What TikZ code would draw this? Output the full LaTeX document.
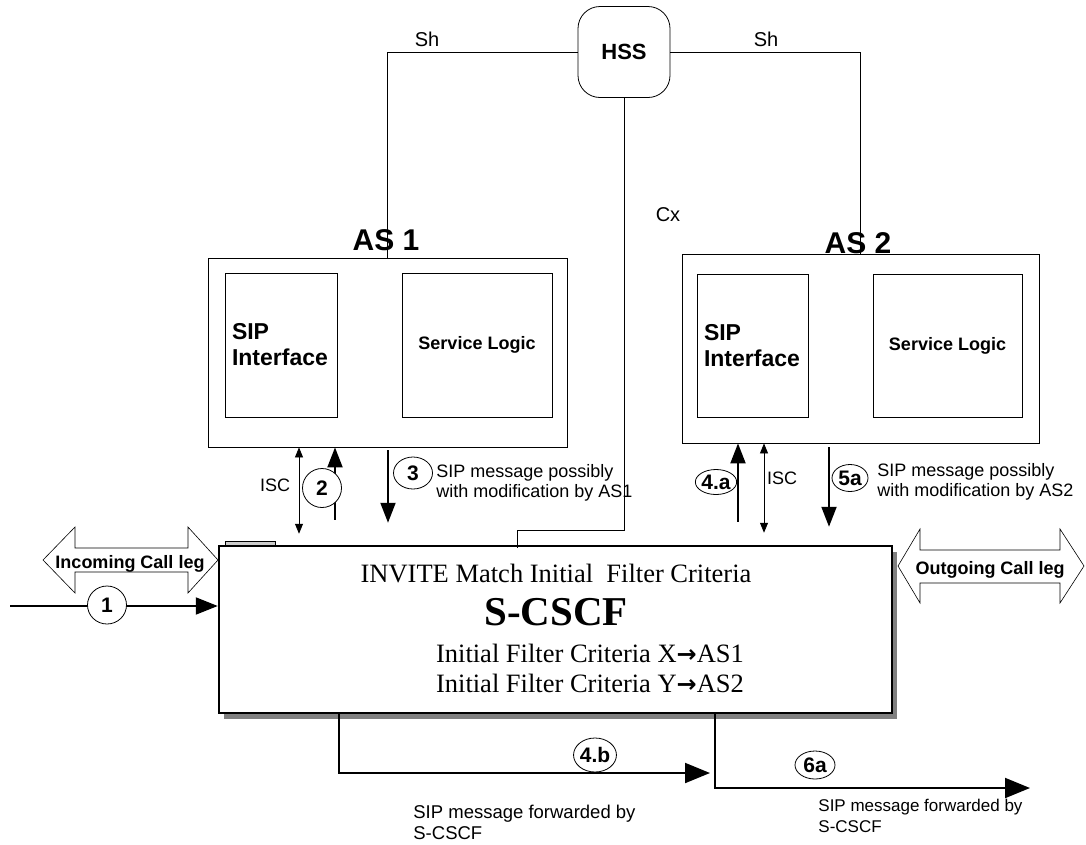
\documentclass[tikz,border=0pt]{standalone}
\usepackage{fontspec}
\setmainfont{Liberation Sans}
\newfontfamily\serifface{Liberation Serif}
\newfontfamily\arrowface{DejaVu Sans}
\usetikzlibrary{positioning}
\usetikzlibrary{arrows.meta}
\usetikzlibrary{shapes.geometric, shadows}

\newcommand{\pxsize}[2]{\fontsize{#1}{#2}\selectfont}
\newcommand{\ifcarrow}{{\arrowface\bfseries\pxsize{24}{28}→}}

\begin{document}
\begin{tikzpicture}[
        x = 1pt, y = -1pt, % pixel grid, y runs downwards
        > = {Triangle[length=20pt, width=15pt]}, % arrow head style
        line width = 0.8pt, % line style
        flow/.style = {->, line width=2pt},
        isc/.style = {{Triangle[length=10pt, width=8pt]}-{Triangle[length=10pt, width=8pt]}},
        box/.style = {draw, rectangle, inner sep=0pt},
        tag/.style = {draw, fill=white, ellipse, inner sep=0pt, font=\bfseries\pxsize{21}{24}},
        txt/.style = {font=\pxsize{18}{20}, inner sep=0pt, align=left, anchor=west},
        leg/.style = {draw, fill=white, line width=0.6pt}
        ]
  \useasboundingbox (0,0) rectangle (1086,844);

  % HSS and the two application servers
  \node[box, rounded corners=22pt, minimum width=92pt, minimum height=91pt,
        font=\bfseries\pxsize{22}{24}] (hss) at (624,52) {HSS};

  \node[box, minimum width=359pt, minimum height=189pt] (as1) at (387.5,352.5) {};
  \node[box, minimum width=112pt, minimum height=144pt, text width=98pt, inner xsep=7pt,
        align=left, font=\bfseries\pxsize{23}{26}] (sip1) at (281,345) {SIP\\Interface};
  \node[box, minimum width=150pt, minimum height=144pt,
        font=\bfseries\pxsize{18}{20}] (logic1) at (477,345) {Service Logic};
  \node[font=\bfseries\pxsize{30}{32}] (name1) at (386,240) {AS 1};

  \node[box, minimum width=357pt, minimum height=189pt] (as2) at (860.5,348.5) {};
  \node[box, minimum width=111pt, minimum height=143pt, text width=97pt, inner xsep=7pt,
        align=left, font=\bfseries\pxsize{23}{26}] (sip2) at (752.5,345.5) {SIP\\Interface};
  \node[box, minimum width=149pt, minimum height=143pt,
        font=\bfseries\pxsize{18}{20}] (logic2) at (947.5,345.5) {Service Logic};
  \node[font=\bfseries\pxsize{30}{32}] (name2) at (858,243) {AS 2};

  % S-CSCF
  \draw[fill=gray!40, line width=0.6pt] (225,541) rectangle (275,546);
  \node[box, line width=2.5pt, fill=white, minimum width=673pt, minimum height=167pt,
        drop shadow={shadow xshift=5pt, shadow yshift=-6pt, fill=gray, opacity=1}]
        (scscf) at (555.5,629.5) {};
  \node[font=\serifface\pxsize{26.5}{28}] (invite) at (556,573) {INVITE Match Initial\ \ Filter Criteria};
  \node[font=\serifface\bfseries\pxsize{41}{44}] (title) at (556,612) {S-CSCF};
  \node[font=\serifface\pxsize{26.5}{28}] (ifcx) at (590,653) {Initial Filter Criteria X\ifcarrow AS1};
  \node[font=\serifface\pxsize{26.5}{28}] (ifcy) at (590,683) {Initial Filter Criteria Y\ifcarrow AS2};

  % Sh and Cx
  \draw (hss.west) -| (as1.north);
  \draw (hss.east) -| (as2.north);
  \node[font=\pxsize{20}{22}] (sh1) at (427,39) {Sh};
  \node[font=\pxsize{20}{22}] (sh2) at (766,39) {Sh};
  \coordinate (cxend) at (517,548);
  \draw (hss.south) |- (517,530) -- (cxend);
  \node[font=\pxsize{20}{22}] (cx) at (668,215) {Cx};

  % call legs
  \draw[leg] (43,560) -- (75,527) -- (75,548) -- (188,548) -- (188,527) -- (218,560)
        -- (188,593) -- (188,572) -- (75,572) -- (75,593) -- cycle;
  \node[font=\bfseries\pxsize{18}{20}] (inleg) at (130,564) {Incoming Call leg};
  \draw[leg] (898,566) -- (920,529) -- (920,550) -- (1060,550) -- (1060,529) -- (1084,566)
        -- (1060,603) -- (1060,583) -- (920,583) -- (920,603) -- cycle;
  \node[font=\bfseries\pxsize{18}{20}] (outleg) at (990,570) {Outgoing Call leg};

  % messages between S-CSCF and AS1
  \coordinate (in1) at (10,606);
  \draw[flow, > = {Triangle[length=22pt, width=17pt]}] (in1) -- (scscf.west |- in1);
  \node[tag, minimum width=39pt, minimum height=38pt] (t1) at (107,605) {1};

  \coordinate (xa) at (299,0);
  \coordinate (xb) at (335,0);
  \coordinate (xc) at (388,0);
  \draw[isc, shorten >=11pt] (as1.south -| xa) -- (scscf.north -| xa);
  \node[font=\pxsize{18}{20}] (isc1) at (275,485) {ISC};
  \draw[flow, shorten <=25pt] (scscf.north -| xb) -- (as1.south -| xb);
  \node[tag, minimum width=39pt, minimum height=39pt] (t2) at (322,488) {2};
  \draw[flow, shorten <=3pt, shorten >=22pt] (as1.south -| xc) -- (scscf.north -| xc);
  \node[tag, minimum width=39pt, minimum height=32pt] (t3) at (413,473) {3};
  \node[txt] (msg1) at (436,483) {SIP message possibly\\with modification by AS1};

  % messages between S-CSCF and AS2
  \coordinate (xd) at (738,0);
  \coordinate (xe) at (764,0);
  \coordinate (xf) at (829,0);
  \draw[flow, shorten <=23pt] (scscf.north -| xd) -- (as2.south -| xd);
  \node[tag, minimum width=39pt, minimum height=25pt] (t4a) at (716,482) {4.a};
  \draw[isc, shorten >=12pt] (as2.south -| xe) -- (scscf.north -| xe);
  \node[font=\pxsize{18}{20}] (isc2) at (782,478) {ISC};
  \draw[flow, shorten <=4pt, shorten >=18pt] (as2.south -| xf) -- (scscf.north -| xf);
  \node[tag, minimum width=36pt, minimum height=27pt] (t5a) at (850,478) {5a};
  \node[txt] (msg2) at (877,482) {SIP message possibly\\with modification by AS2};

  % forwarded out of S-CSCF
  \coordinate (xg) at (339,0);
  \coordinate (end4b) at (710,773);
  \draw[flow, > = {Triangle[length=25pt, width=20pt]}] (scscf.south -| xg) |- (end4b);
  \node[tag, minimum width=40pt, minimum height=34pt] (t4b) at (595,755) {4.b};
  \node[txt, font=\pxsize{18.5}{21}] (fwd1) at (413,822) {SIP message forwarded by\\S-CSCF};

  \coordinate (xh) at (715,0);
  \coordinate (end6a) at (1030,788);
  \draw[flow, > = {Triangle[length=25pt, width=20pt]}] (scscf.south -| xh) |- (end6a);
  \node[tag, minimum width=40pt, minimum height=28pt] (t6a) at (815,765) {6a};
  \node[txt, font=\pxsize{17}{21}] (fwd2) at (818,816) {SIP message forwarded by\\S-CSCF};

\end{tikzpicture}
\end{document}
